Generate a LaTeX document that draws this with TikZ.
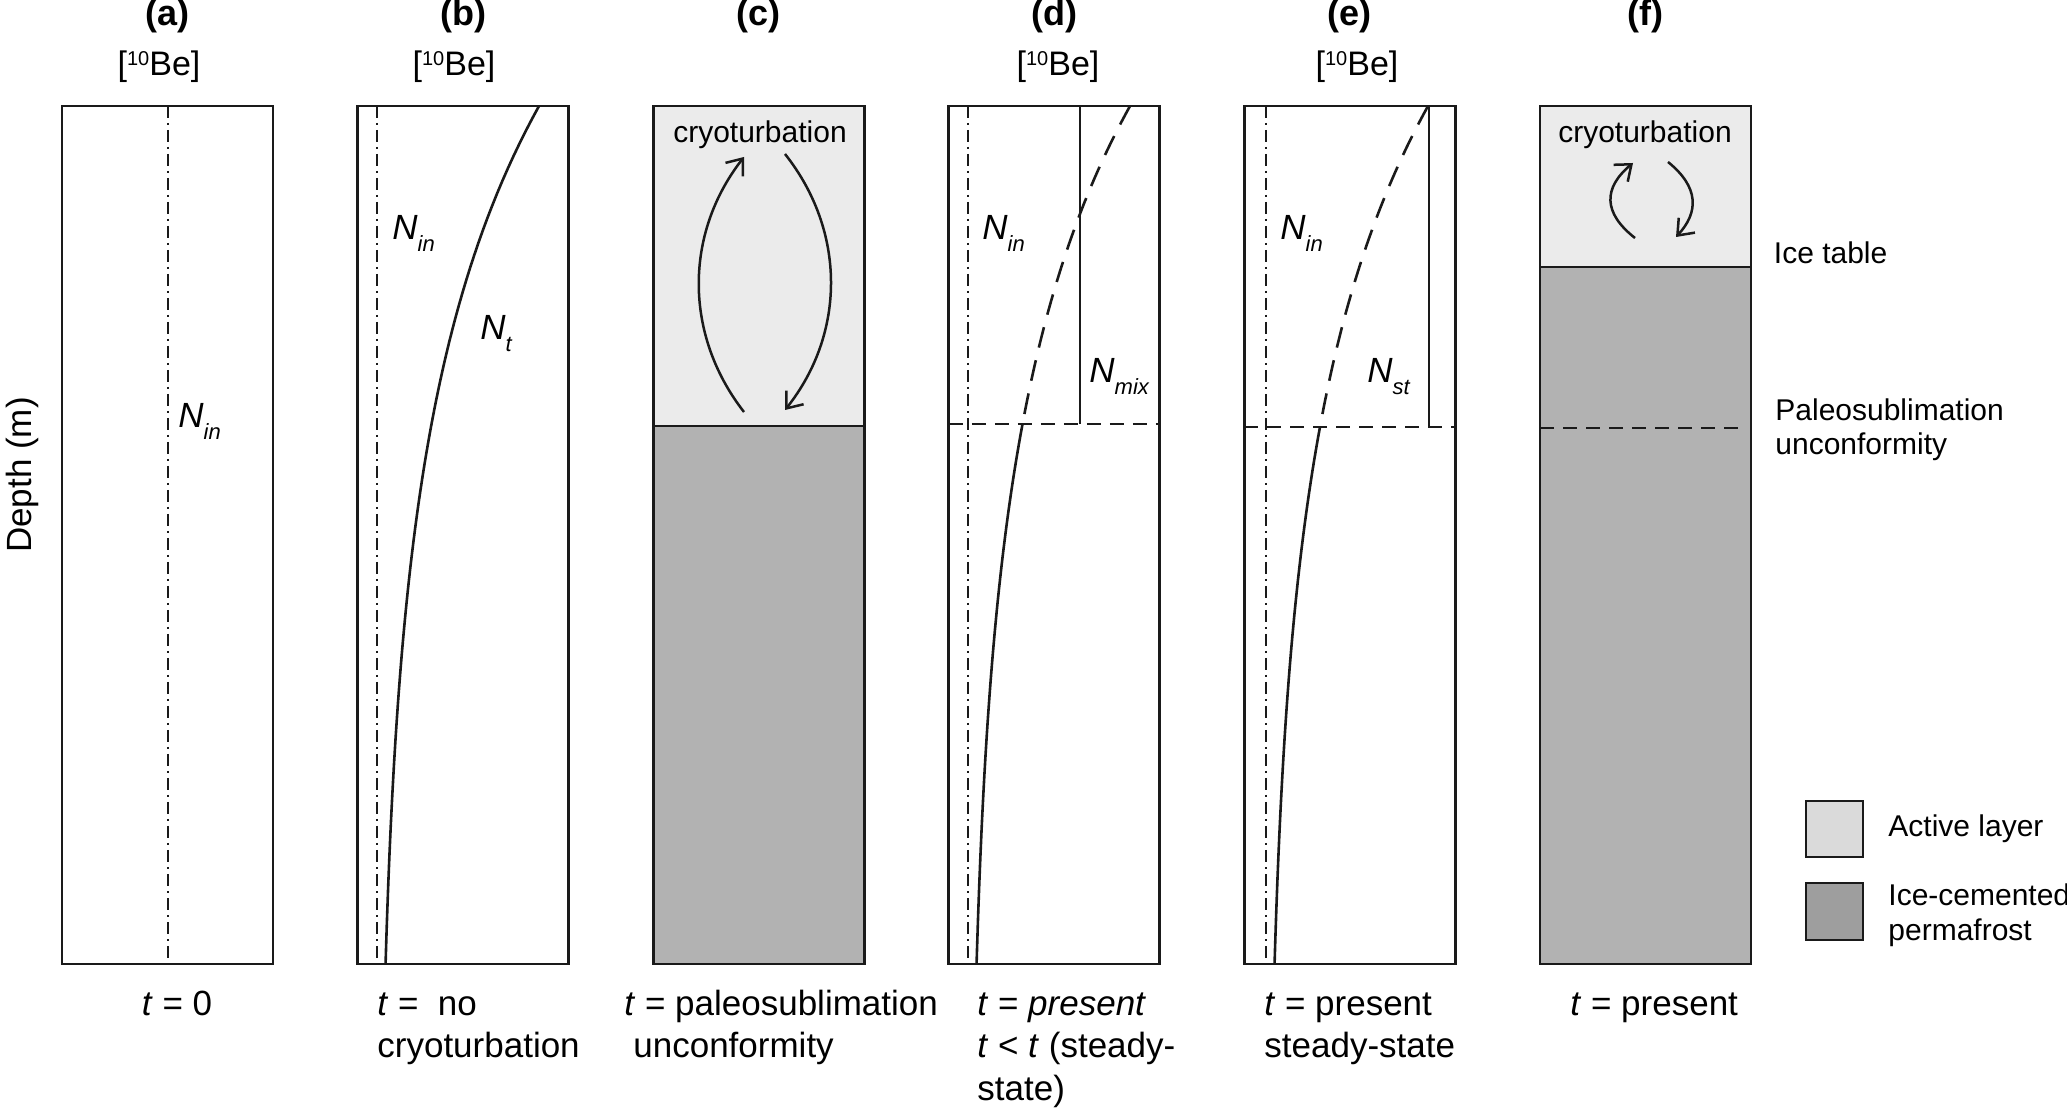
\documentclass[tikz,border=0pt]{standalone}
\usepackage{fontspec}
\setmainfont{Liberation Sans}
\usetikzlibrary{arrows.meta}
\definecolor{activeL}{HTML}{EBEBEB}
\definecolor{permaD}{HTML}{B2B2B2}
\definecolor{legL}{HTML}{DADADA}
\definecolor{legD}{HTML}{9E9E9E}
\definecolor{lineC}{HTML}{1A1A1A}
\newcommand{\Nlab}[1]{{\fontsize{17.5}{20}\selectfont\itshape N\raisebox{-6pt}{\fontsize{11}{12}\selectfont #1}}}
\newcommand{\BeLab}{{\fontsize{17}{20}\selectfont [\raisebox{5pt}{\fontsize{10}{12}\selectfont 10}Be]}}
\begin{document}
\begin{tikzpicture}[x=0.5pt,y=-0.5pt,
  colbox/.style={draw=lineC, line width=1.45pt},
  dashdot/.style={draw=lineC, line width=1.1pt, dash pattern=on 6pt off 2.5pt on 1pt off 2.5pt},
  profile/.style={draw=lineC, line width=1.3pt},
  uncf/.style={draw=lineC, line width=1.15pt, dash pattern=on 7pt off 4.5pt},
  curvedash/.style={draw=lineC, line width=1.3pt, dash pattern=on 10.5pt off 6.5pt},
  cyc/.style={draw=lineC, line width=1.25pt, -{Straight Barb[length=7pt,width=11pt]}},
  title/.style={font=\fontsize{18}{20}\selectfont\bfseries, anchor=base, inner sep=0pt},
  lab/.style={inner sep=0pt, anchor=base west},
  bottom/.style={font=\fontsize{17.5}{21.5}\selectfont, anchor=base west, inner sep=0pt},
  side/.style={font=\fontsize{15}{17}\selectfont, anchor=base west, inner sep=0pt}]

\useasboundingbox (0,0) rectangle (2067,1111);

% titles
\node[title] (ta) at (167.5,26) {(a)};
\node[title] (tb) at (463.1,26) {(b)};
\node[title] (tc) at (758.7,26) {(c)};
\node[title] (td) at (1054.3,26) {(d)};
\node[title] (te) at (1349.9,26) {(e)};
\node[title] (tf) at (1645.5,26) {(f)};

% 10Be labels
\node[anchor=base, inner sep=0pt] (bea) at (159,76) {\BeLab};
\node[anchor=base, inner sep=0pt] (beb) at (454,76) {\BeLab};
\node[anchor=base, inner sep=0pt] (bed) at (1058,76) {\BeLab};
\node[anchor=base, inner sep=0pt] (bee) at (1357,76) {\BeLab};

% depth label
\node[rotate=90, font=\fontsize{17.5}{20}\selectfont] (depth) at (22,475) {Depth (m)};

% ---- panel a
\draw[dashdot] (168,106) -- (168,964);
\draw[colbox] (62,106) rectangle (273,964);
\node[lab] (nina) at (178,428) {\Nlab{in}};

% ---- panel b
\draw[dashdot] (377,106) -- (377,964);
\draw[profile] plot[domain=106:964, samples=70] ({377+162*exp(-(\x-106)/292)},\x);
\draw[colbox] (357.6,106) rectangle (568.6,964);
\node[lab] (ninb) at (392,240) {\Nlab{in}};
\node[lab] (ntb) at (480,340) {\Nlab{t}};

% ---- panel c
\fill[activeL] (653.2,106) rectangle (864.2,426);
\fill[permaD] (653.2,426) rectangle (864.2,964);
\draw[colbox] (653.2,426) -- (864.2,426);
\draw[colbox] (653.2,106) rectangle (864.2,964);
\node[side, anchor=base] (cryc) at (760,143) {cryoturbation};
\coordinate (c1s) at (744,412); \coordinate (c1e) at (744,157);
\coordinate (c2s) at (785,154); \coordinate (c2e) at (785,410);
\draw[cyc] (c1s) .. controls (684,335) and (684,234) .. (c1e);
\draw[cyc] (c2s) .. controls (846,231) and (846,333) .. (c2e);

% ---- panel d
\draw[dashdot] (968,106) -- (968,964);
\draw[curvedash] plot[domain=106:424, samples=40] ({968+162*exp(-(\x-106)/292)},\x);
\draw[profile] plot[domain=424:964, samples=50] ({968+162*exp(-(\x-106)/292)},\x);
\draw[profile] (1080,106) -- (1080,424);
\draw[uncf] (948.8,424) -- (1159.8,424);
\draw[colbox] (948.8,106) rectangle (1159.8,964);
\node[lab] (nind) at (982,240) {\Nlab{in}};
\node[lab] (nmix) at (1089,383) {\Nlab{mix}};

% ---- panel e
\draw[dashdot] (1266,106) -- (1266,964);
\draw[curvedash] plot[domain=106:427, samples=40] ({1266+162*exp(-(\x-106)/292)},\x);
\draw[profile] plot[domain=427:964, samples=50] ({1266+162*exp(-(\x-106)/292)},\x);
\draw[profile] (1429,106) -- (1429,427);
\draw[uncf] (1244.4,427) -- (1455.4,427);
\draw[colbox] (1244.4,106) rectangle (1455.4,964);
\node[lab] (nine) at (1280,240) {\Nlab{in}};
\node[lab] (nst) at (1367,383) {\Nlab{st}};

% ---- panel f
\fill[activeL] (1540,106) rectangle (1751,267);
\fill[permaD] (1540,267) rectangle (1751,964);
\draw[colbox] (1540,267) -- (1751,267);
\draw[uncf] (1540,428) -- (1745,428);
\draw[colbox] (1540,106) rectangle (1751,964);
\node[side, anchor=base] (cryf) at (1645,143) {cryoturbation};
\coordinate (f1s) at (1635,238); \coordinate (f1e) at (1633,163);
\coordinate (f2s) at (1668,162); \coordinate (f2e) at (1676,237);
\draw[cyc] (f1s) .. controls (1603,213) and (1603,188) .. (f1e);
\draw[cyc] (f2s) .. controls (1699,187) and (1699,212) .. (f2e);

% side labels
\node[side] (icet) at (1773.5,264) {Ice table};
\node[side] (paleo1) at (1775,421) {Paleosublimation};
\node[side] (paleo2) at (1775,455) {unconformity};

% legend
\draw[colbox, fill=legL] (1806,801) rectangle (1863,857);
\draw[colbox, fill=legD] (1806,883) rectangle (1863,940);
\node[side] (leg1) at (1888,836) {Active layer};
\node[side] (leg2a) at (1888,906) {Ice-cemented};
\node[side] (leg2b) at (1888,940) {permafrost};

% bottom labels
\node[bottom, anchor=base] (ba) at (177,1015) {\textit{t} = 0};
\node[bottom] (bb1) at (377,1015) {\textit{t} =\ \ no};
\node[bottom] (bb2) at (377,1057.5) {cryoturbation};
\node[bottom] (bc1) at (624,1015) {\textit{t} = paleosublimation};
\node[bottom] (bc2) at (633,1057.5) {unconformity};
\node[bottom] (bd1) at (977,1015) {\textit{t} = \textit{present}};
\node[bottom] (bd2) at (977,1057.5) {\textit{t} < \textit{t} (steady-};
\node[bottom] (bd3) at (977,1100) {state)};
\node[bottom] (be1) at (1264,1015) {\textit{t} = present};
\node[bottom] (be2) at (1264,1057.5) {steady-state};
\node[bottom] (bf1) at (1570,1015) {\textit{t} = present};
\end{tikzpicture}
\end{document}
